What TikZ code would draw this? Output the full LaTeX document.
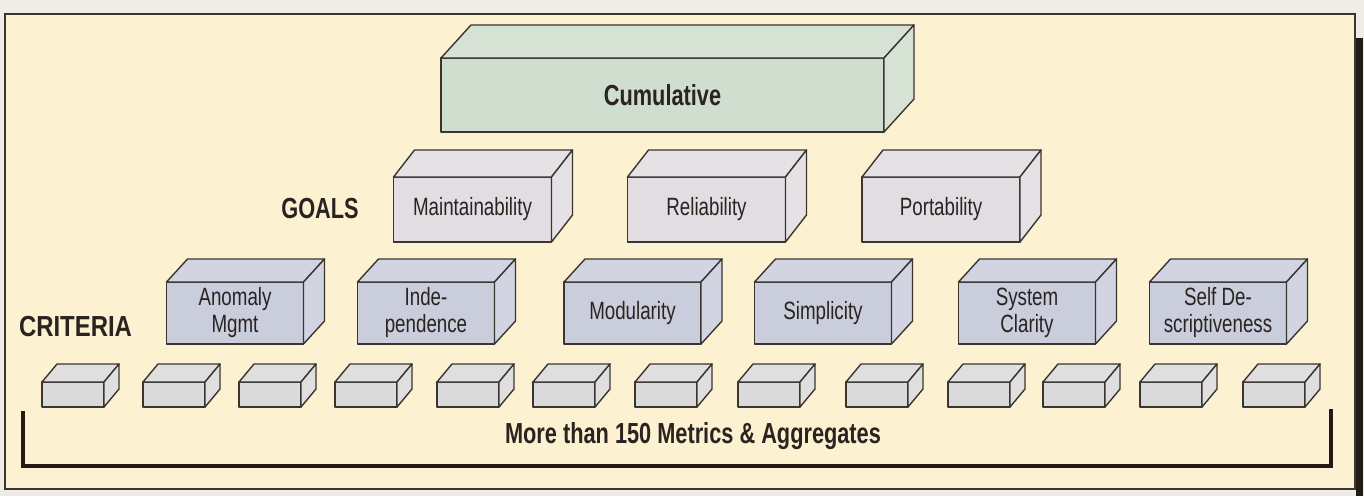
\documentclass[tikz,border=0pt]{standalone}
\usepackage{fontspec}
\setmainfont{Liberation Sans}[FakeStretch=0.75]
\begin{document}
\begin{tikzpicture}[x=1pt,y=-1pt,
  edge/.style={draw=boxline, line width=1.4pt, line join=round},
  cumbox/.style={edge, fill=cumfill, inner sep=0pt, outer sep=0pt, font=\fontsize{29}{31}\selectfont\bfseries, text=txt},
  cumboxface/.style={edge, fill=cumface},
  goalbox/.style={edge, fill=goalfill, inner sep=0pt, outer sep=0pt, font=\fontsize{25}{27}\selectfont, text=txt},
  goalboxface/.style={edge, fill=goalface},
  critbox/.style={edge, fill=critfill, inner sep=0pt, outer sep=0pt, font=\fontsize{25}{27}\selectfont, text=txt, align=center},
  critboxface/.style={edge, fill=critface},
  metbox/.style={edge, fill=metfill, inner sep=0pt, outer sep=0pt},
  metboxface/.style={edge, fill=metface},
  heading/.style={font=\fontsize{29}{31}\selectfont\bfseries, text=txt, inner sep=0pt},
  bracket/.style={draw=brk, line width=4.5pt, line cap=butt, line join=miter}
]
\definecolor{outer}{HTML}{EFECE6}
\definecolor{cream}{HTML}{FCF2D2}
\definecolor{boxline}{HTML}{3A3530}
\definecolor{txt}{HTML}{2A2320}
\definecolor{brk}{HTML}{231A14}
\definecolor{cumfill}{HTML}{D0DED0}
\definecolor{cumface}{HTML}{D6E2D4}
\definecolor{goalfill}{HTML}{E2DDE2}
\definecolor{goalface}{HTML}{E6E1E5}
\definecolor{critfill}{HTML}{C9CDDC}
\definecolor{critface}{HTML}{D2D5E1}
\definecolor{metfill}{HTML}{DADADB}
\definecolor{metface}{HTML}{E0DFDF}

\newcommand{\cubebox}[9]{%
  \node[#8, minimum width=#4pt, minimum height=#5pt] (#1) at (#2,#3) {#9};
  \draw[#8face] (#1.north west) -- ++(#6,-#7) -- ([shift={(#6,-#7)}]#1.north east) -- (#1.north east) -- cycle;
  \draw[#8face] (#1.north east) -- ++(#6,-#7) -- ([shift={(#6,-#7)}]#1.south east) -- (#1.south east) -- cycle;
}

\useasboundingbox (0,0) rectangle (1364,496);
\fill[outer] (0,0) rectangle (1364,496);
\fill[cream] (5,14) rectangle (1355,489);
\draw[draw=boxline, line width=1.3pt] (5,14) rectangle (1355,489);
\fill[brk] (1356,38) rectangle (1363,496);

% top
\cubebox{cum}{662.5}{95}{443}{74}{30}{33}{cumbox}{Cumulative}

% goals
\cubebox{maint}{472.5}{209.5}{158}{65}{21}{27}{goalbox}{Maintainability}
\cubebox{reli}{706.5}{209.5}{158}{65}{21}{27}{goalbox}{Reliability}
\cubebox{port}{941}{209.5}{158}{65}{21}{27}{goalbox}{Portability}

% criteria
\cubebox{anom}{235}{313}{137}{62}{21}{23}{critbox}{Anomaly\\Mgmt}
\cubebox{indep}{426}{313}{137}{62}{21}{23}{critbox}{Inde-\\pendence}
\cubebox{modu}{632.5}{313}{137}{62}{21}{23}{critbox}{\raisebox{-9pt}{Modularity}}
\cubebox{simp}{823}{313}{137}{62}{21}{23}{critbox}{\raisebox{-9pt}{Simplicity}}
\cubebox{sysc}{1027}{313}{137}{62}{21}{23}{critbox}{System\\Clarity}
\cubebox{selfd}{1218}{313}{137}{62}{21}{23}{critbox}{Self De-\\scriptiveness}

% metrics
\foreach \xl [count=\i] in {42,143,239,335,437,533,635,738,846,948,1043,1140,1243}{
  \cubebox{m\i}{\xl+31}{394.5}{62}{25}{15}{18}{metbox}{}
}

\node[heading] (goals) at (320,209) {GOALS};
\node[heading] (crit) at (75.5,327) {\scalebox{1.1}[1]{CRITERIA}};
\node[heading] (more) at (693,436) {More than 150 Metrics \& Aggregates};

\coordinate (bl1) at (23,411);
\coordinate (bl2) at (23,466);
\coordinate (br2) at (1331,466);
\coordinate (br1) at (1331,409);
\draw[bracket] (bl1) -- (bl2) -- (br2) -- (br1);
\end{tikzpicture}
\end{document}
